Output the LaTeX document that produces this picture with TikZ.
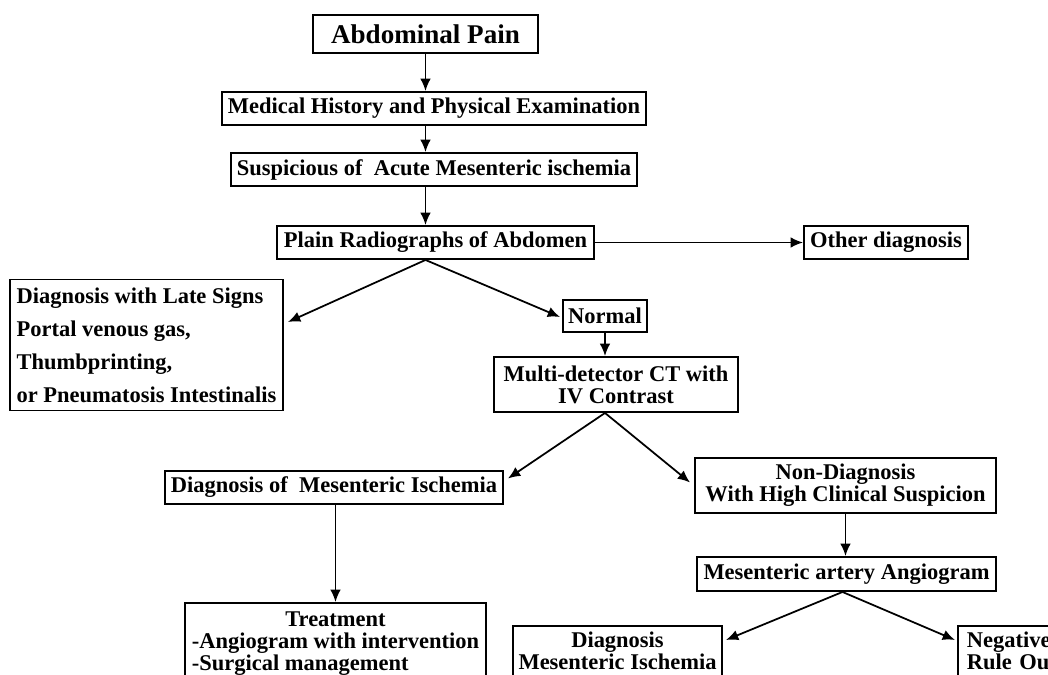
\documentclass[tikz,border=0pt]{standalone}
\usepackage{fontspec}
\setmainfont{Liberation Serif}
\usetikzlibrary{arrows.meta}

\begin{document}
\begin{tikzpicture}[
  x=0.02cm, y=-0.02cm,
  box/.style={draw, line width=1.1pt, inner sep=0pt, align=center,
    font=\fontsize{12.8}{12.5}\selectfont\bfseries},
  arrow/.style={line width=1pt, -{Latex[length=7pt, width=6pt]}}
]
  \clip (0,0) rectangle (1048,675);

  % Top chain
  \node[box, minimum width=225*0.02cm, minimum height=38*0.02cm,
    font=\fontsize{15.4}{16}\selectfont\bfseries] (abd) at (425.5,34) {Abdominal Pain};
  \node[box, minimum width=424*0.02cm, minimum height=33*0.02cm] (med) at (434,108.5) {Medical History and Physical Examination};
  \node[box, minimum width=406*0.02cm, minimum height=33*0.02cm] (susp) at (434,169.5) {Suspicious of\ \ Acute Mesenteric ischemia};
  \node[box, minimum width=317*0.02cm, minimum height=33*0.02cm] (plain) at (435.5,242.5) {Plain Radiographs of Abdomen};
  \node[box, minimum width=164*0.02cm, minimum height=33*0.02cm] (other) at (886,242.5) {Other diagnosis};

  % Second level
  \node[box, minimum width=273*0.02cm, minimum height=131*0.02cm, align=left,
    font=\fontsize{12.8}{18.8}\selectfont\bfseries] (late) at (146.5,345)
    {Diagnosis with Late Signs\\Portal venous gas,\\Thumbprinting,\\or Pneumatosis Intestinalis};
  \node[box, minimum width=84*0.02cm, minimum height=32*0.02cm] (normal) at (605,316) {Normal};
  \node[box, minimum width=244*0.02cm, minimum height=55*0.02cm] (mdct) at (616,384.5) {Multi-detector CT with\\IV Contrast};

  % CT results
  \node[box, minimum width=338*0.02cm, minimum height=33*0.02cm] (dxmi) at (334,487.5) {Diagnosis of\ \ Mesenteric Ischemia};
  \node[box, minimum width=301*0.02cm, minimum height=55*0.02cm] (nondx) at (845.5,485.5) {Non-Diagnosis\\With High Clinical Suspicion};
  \node[box, minimum width=299*0.02cm, minimum height=34*0.02cm] (angio) at (846.5,574) {Mesenteric artery Angiogram};

  % Bottom row (cut off)
  \node[box, minimum width=301*0.02cm, inner ysep=4.5pt, anchor=north] (treat) at (335.5,602)
    {\begin{tabular}{@{}l@{}}\multicolumn{1}{@{}c@{}}{Treatment}\\-Angiogram with intervention\\-Surgical management\\ \\ \end{tabular}};
  \node[box, minimum width=209*0.02cm, minimum height=72*0.02cm, anchor=north] (dxmi2) at (617.5,625)
    {Diagnosis\\Mesenteric Ischemia\\ \ };
  \node[box, text width=150*0.02cm, minimum height=72*0.02cm, inner xsep=9*0.02cm, anchor=north west, align=left] (neg) at (957,625)
    {Negative\\Rule Out\\ \ };

  % Arrows
  \draw[arrow] (abd.south) -- (abd.south |- med.north);
  \draw[arrow] (abd.south |- med.south) -- (abd.south |- susp.north);
  \draw[arrow] (abd.south |- susp.south) -- (abd.south |- plain.north);
  \draw[arrow] (plain.east) -- (other.west);
  \draw[arrow] (abd.south |- plain.south) -- ([shift={(4,-23)}]late.east);
  \draw[arrow] (abd.south |- plain.south) -- ([shift={(-2,1)}]normal.west);
  \draw[arrow] (normal.south) -- (normal.south |- mdct.north);
  \draw[arrow] (normal.south |- mdct.south) -- ([shift={(4,-9)}]dxmi.east);
  \draw[arrow] (normal.south |- mdct.south) -- ([shift={(-4,-3)}]nondx.west);
  \draw[arrow] (dxmi.south -| treat.north) -- (treat.north);
  \draw[arrow] (nondx.south) -- (nondx.south |- angio.north);
  \draw[arrow] ([xshift=-4*0.02cm]angio.south) -- ([shift={(3,15)}]dxmi2.north east);
  \draw[arrow] ([xshift=-4*0.02cm]angio.south) -- ([shift={(-2,15)}]neg.north west);

\end{tikzpicture}
\end{document}
